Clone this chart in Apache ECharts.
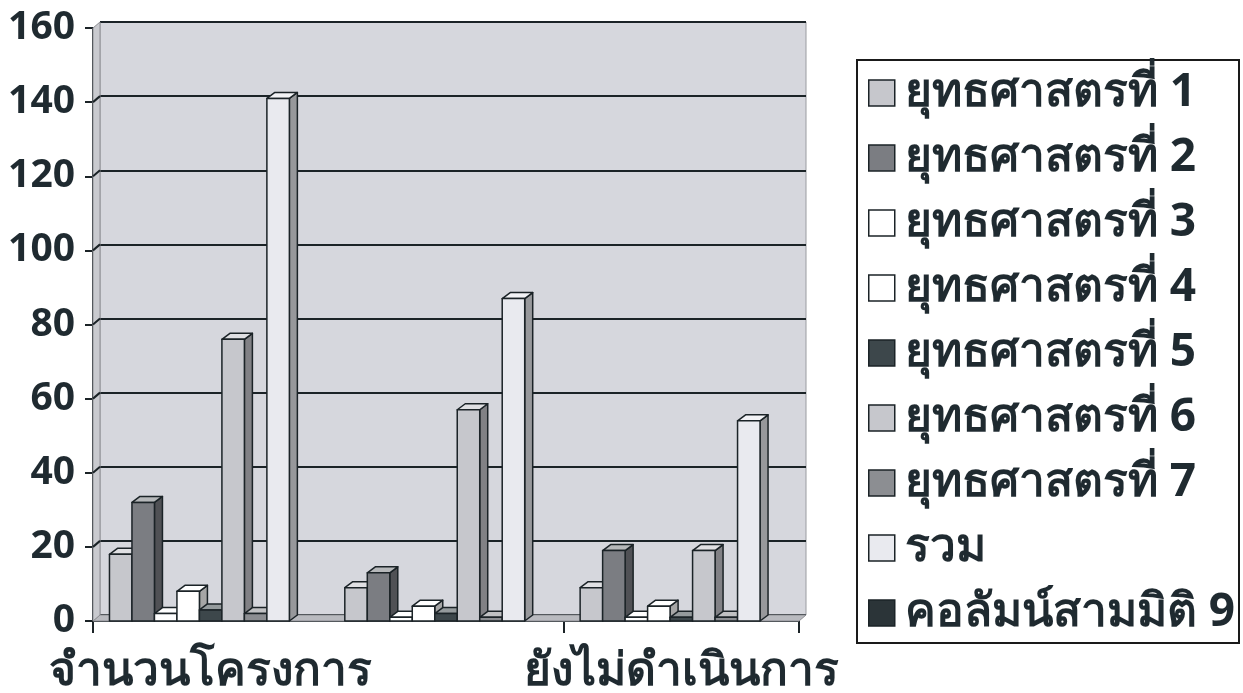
<!DOCTYPE html>
<html>
<head>
<meta charset="utf-8">
<script src="https://cdn.jsdelivr.net/npm/echarts@6/dist/echarts.min.js"></script>
<style>
html,body{margin:0;padding:0;background:#fff;}
#c{width:1243px;height:693px;}
</style>
</head>
<body>
<div id="c"></div>
<script>
// ---- data ----
var categories = ['จำนวนโครงการ', 'ดำเนินการแล้ว', 'ยังไม่ดำเนินการ'];
var seriesNames = ['ยุทธศาสตรที่ 1','ยุทธศาสตรที่ 2','ยุทธศาสตรที่ 3','ยุทธศาสตรที่ 4','ยุทธศาสตรที่ 5','ยุทธศาสตรที่ 6','ยุทธศาสตรที่ 7','รวม','คอลัมน์สามมิติ 9'];
var s1 = [18, 9, 9];
var s2 = [32, 13, 19];
var s3 = [2, 1, 1];
var s4 = [8, 4, 4];
var s5 = [3, 2, 1];
var s6 = [76, 57, 19];
var s7 = [2, 1, 1];
var total = [141, 87, 54];
var s9 = [0, 0, 0];
var seriesValues = [s1, s2, s3, s4, s5, s6, s7, total, s9];
var yTicks = [0, 20, 40, 60, 80, 100, 120, 140, 160];

// ---- style ----
var colors = ['#c6c7cc','#7b7d82','#ffffff','#ffffff','#3d474b','#c6c7cc','#8c8e92','#e9eaef','#2b3438'];
var FONT = "'Open Sans','Noto Sans','DejaVu Sans',sans-serif";
var EDGE = '#1b2327';
var DX = 8, DY = -6;      // depth of bars
var WX = 7, WY = -6;      // depth of walls
var NS = seriesNames.length;
var GROUP = 0.86;

function mix(hex, target, t) {
  var r = parseInt(hex.substr(1,2),16), g = parseInt(hex.substr(3,2),16), b = parseInt(hex.substr(5,2),16);
  r = Math.round(r + (target - r) * t); g = Math.round(g + (target - g) * t); b = Math.round(b + (target - b) * t);
  return 'rgb(' + r + ',' + g + ',' + b + ')';
}

function makeBarRender(idx) {
  var c = colors[idx];
  var side = mix(c, 0, 0.35);
  var top = mix(c, 255, 0.45);
  return function (params, api) {
    var cat = api.value(0), v = api.value(1);
    if (!v) return;
    var base = api.coord([cat, 0]);
    var tp = api.coord([cat, v]);
    var band = api.size([1, 0])[0];
    var gw = band * GROUP;
    var w = gw / NS;
    var x0 = base[0] - gw / 2 + idx * w;
    var x1 = x0 + w;
    var yb = base[1], yt = tp[1];
    var st = {stroke: EDGE, lineWidth: 1.5, lineJoin: 'round'};
    return {
      type: 'group',
      children: [
        {type: 'polygon', shape: {points: [[x1, yb], [x1 + DX, yb + DY], [x1 + DX, yt + DY], [x1, yt]]},
          style: Object.assign({fill: side}, st)},
        {type: 'polygon', shape: {points: [[x0, yt], [x1, yt], [x1 + DX, yt + DY], [x0 + DX, yt + DY]]},
          style: Object.assign({fill: top}, st)},
        {type: 'rect', shape: {x: x0, y: yt, width: w, height: yb - yt},
          style: Object.assign({fill: c}, st)}
      ]
    };
  };
}

function wallRender(params, api) {
  if (params.dataIndex !== 0) return;
  var band = api.size([1, 0])[0];
  var c0 = api.coord([0, 0]);
  var cN = api.coord([categories.length - 1, 0]);
  var left = c0[0] - band / 2, right = cN[0] + band / 2;
  var y0 = c0[1];
  var yTop = api.coord([0, yTicks[yTicks.length - 1]])[1];
  var children = [
    {type: 'polygon', shape: {points: [[left, y0], [right, y0], [right + WX, y0 + WY], [left + WX, y0 + WY]]},
      style: {fill: '#b9babf', stroke: '#8e8f94', lineWidth: 1}},
    {type: 'polygon', shape: {points: [[left, y0], [left, yTop], [left + WX, yTop + WY], [left + WX, y0 + WY]]},
      style: {fill: '#c9cacf', stroke: '#8e8f94', lineWidth: 1}}
  ];
  for (var i = 1; i < yTicks.length - 1; i++) {
    var yy = api.coord([0, yTicks[i]])[1];
    children.push({type: 'line', shape: {x1: left, y1: yy, x2: left + WX, y2: yy + WY},
      style: {stroke: EDGE, lineWidth: 2}});
  }
  return {type: 'group', children: children};
}

var series = [{
  type: 'custom', name: '_walls', xAxisIndex: 1, yAxisIndex: 1, z: 1,
  renderItem: wallRender, data: [[0, 0]], encode: {x: 0, y: 1}, silent: true
}];
for (var i = 0; i < NS; i++) {
  series.push({
    type: 'custom', name: seriesNames[i], xAxisIndex: 1, yAxisIndex: 1, z: 2 + i,
    renderItem: makeBarRender(i),
    itemStyle: {color: colors[i], borderColor: EDGE, borderWidth: 1.5},
    encode: {x: 0, y: 1},
    data: seriesValues[i].map(function (v, k) { return [k, v]; })
  });
}

var chart = echarts.init(document.getElementById('c'), null, {renderer: 'canvas'});
chart.setOption({
  animation: false,
  backgroundColor: '#ffffff',
  grid: [
    {left: 100, top: 22, right: 437, bottom: 78, outerBoundsMode: 'none', containLabel: false,
      show: true, backgroundColor: '#d6d7dd', borderColor: '#9a9ba0', borderWidth: 1},
    {left: 93, top: 28, right: 444, bottom: 72, outerBoundsMode: 'none', containLabel: false}
  ],
  xAxis: [
    {type: 'category', gridIndex: 0, data: categories, show: false},
    {type: 'category', gridIndex: 1, data: categories,
      axisLine: {lineStyle: {color: EDGE, width: 2}},
      axisTick: {show: true, length: 12, lineStyle: {color: EDGE, width: 2}},
      axisLabel: {interval: 1, margin: 28, fontSize: 46, fontWeight: 'bold', color: '#1f2a30', fontFamily: FONT}
    }
  ],
  yAxis: [
    {type: 'value', gridIndex: 0, min: 0, max: 160, interval: 20,
      axisLine: {show: false}, axisTick: {show: false}, axisLabel: {show: false},
      splitLine: {show: true, lineStyle: {color: EDGE, width: 2}}},
    {type: 'value', gridIndex: 1, min: 0, max: 160, interval: 20,
      axisLine: {show: true, lineStyle: {color: EDGE, width: 2}},
      axisTick: {show: true, length: 8, lineStyle: {color: EDGE, width: 2}},
      splitLine: {show: false},
      axisLabel: {margin: 18, fontSize: 39, fontWeight: 'bold', color: '#1f2a30', fontFamily: FONT}
    }
  ],
  legend: {
    orient: 'vertical', left: 857, top: 60,
    data: seriesNames,
    icon: 'rect', itemWidth: 26, itemHeight: 26, itemGap: 15,
    padding: [8, 4, 5, 11],
    borderColor: '#1a1a1a', borderWidth: 2,
    itemStyle: {borderColor: EDGE, borderWidth: 1.5},
    textStyle: {fontSize: 46, fontWeight: 'bold', color: '#1f2a30', fontFamily: FONT, lineHeight: 50, padding: [0, 0, 0, 5]}
  },
  series: series
});
</script>
</body>
</html>
